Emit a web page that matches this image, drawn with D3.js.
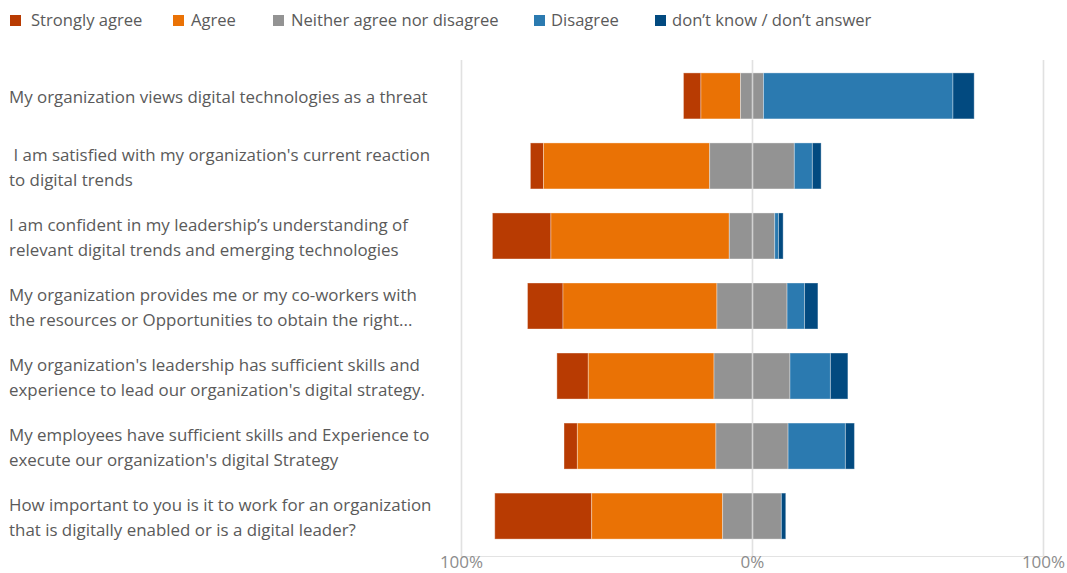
<!DOCTYPE html>
<html>
<head>
<meta charset="utf-8">
<script src="https://cdn.jsdelivr.net/npm/d3@7"></script>
<style>
  html, body { margin: 0; padding: 0; background: #ffffff; }
  svg { display: block; }
  text { font-family: "Open Sans", "Noto Sans", sans-serif; }
</style>
</head>
<body>
<svg id="chart" width="1067" height="573"></svg>
<script>
// Survey statements (each entry is the list of wrapped lines)
const categories = [
  ["My organization views digital technologies as a threat"],
  [" I am satisfied with my organization's current reaction", "to digital trends"],
  ["I am confident in my leadership\u2019s understanding of", "relevant digital trends and emerging technologies"],
  ["My organization provides me or my co-workers with", "the resources or Opportunities to obtain the right..."],
  ["My organization's leadership has sufficient skills and", "experience to lead our organization's digital strategy."],
  ["My employees have sufficient skills and Experience to", "execute our organization's digital Strategy"],
  ["How important to you is it to work for an organization", "that is digitally enabled or is a digital leader?"]
];

// Share of responses per statement (%)
const stronglyAgree = [6.0, 4.5, 20.1, 12.2, 10.8, 4.6, 33.3];
const agree         = [13.6, 57.1, 61.3, 52.9, 43.2, 47.6, 45.0];
const neither       = [7.9, 29.1, 15.6, 24.1, 26.1, 24.8, 20.2];
const disagree      = [65.1, 6.2, 1.3, 6.0, 13.9, 19.7, 0.0];
const dontKnow      = [7.3, 3.0, 1.6, 4.6, 6.0, 3.1, 1.5];

const seriesNames = ["Strongly agree", "Agree", "Neither agree nor disagree", "Disagree", "don\u2019t know / don\u2019t answer"];
const seriesColors = ["#b83b02", "#ea7205", "#939393", "#2b7ab0", "#024a80"];
const tickValues = [-100, 0, 100];
const tickLabels = ["100%", "0%", "100%"];

const svg = d3.select("#chart");

const x = d3.scaleLinear().domain([-100, 100]).range([461, 1043]);
const y = d3.scaleBand()
  .domain(d3.range(categories.length))
  .range([61, 551])
  .paddingInner(0.343)
  .paddingOuter(0.17);

// Build diverging segments: agree side to the left of 0, neither split across 0
const segments = [];
categories.forEach((c, i) => {
  const vals = [stronglyAgree[i], agree[i], neither[i], disagree[i], dontKnow[i]];
  let start = -(stronglyAgree[i] + agree[i] + neither[i] / 2);
  vals.forEach((v, k) => {
    segments.push({ row: i, series: k, x0: start, x1: start + v });
    start += v;
  });
});

// Plot frame baseline
const frameColor = "#e3e3e3";
svg.append("line")
  .attr("x1", x(-100)).attr("x2", x(100))
  .attr("y1", 556.5).attr("y2", 556.5)
  .attr("stroke", frameColor).attr("stroke-width", 1.2);

// Bars
svg.append("g").selectAll("rect")
  .data(segments.filter(d => d.x1 > d.x0))
  .join("rect")
  .attr("x", d => x(d.x0))
  .attr("width", d => x(d.x1) - x(d.x0))
  .attr("y", d => y(d.row))
  .attr("height", y.bandwidth())
  .attr("fill", d => seriesColors[d.series])
  .attr("stroke", "rgba(255,255,255,0.35)")
  .attr("stroke-width", 1);

// Vertical gridlines drawn over the bars
const xAxis = d3.axisBottom(x)
  .tickValues(tickValues)
  .tickFormat((d, i) => tickLabels[i])
  .tickSize(-(556.5 - 60))
  .tickPadding(4);

const axisG = svg.append("g")
  .attr("transform", "translate(0,556.5)")
  .call(xAxis);
axisG.select(".domain").remove();
axisG.selectAll(".tick line")
  .attr("stroke", "#dcdcdc")
  .attr("stroke-opacity", 0.85)
  .attr("stroke-width", 1.6);
axisG.selectAll(".tick text")
  .attr("fill", "#8c8c8c")
  .attr("font-size", 17)
  .attr("dy", "0.45em")
  .style("font-family", "\"Open Sans\", sans-serif");

// Category labels
const labelG = svg.append("g");
categories.forEach((lines, i) => {
  const cy = y(i) + y.bandwidth() / 2 + 1.5;
  const lh = 25;
  const top = cy - (lines.length - 1) * lh / 2;
  const t = labelG.append("text")
    .attr("fill", "#5a5a5a")
    .attr("font-size", 16.9)
    .attr("xml:space", "preserve")
    .style("white-space", "pre");
  lines.forEach((ln, j) => {
    t.append("tspan")
      .attr("x", 9)
      .attr("y", top + j * lh)
      .attr("dy", "0.35em")
      .text(ln);
  });
});

// Legend
const legendSwatchX = [10, 173, 273, 534, 655];
const legendTextX = [31, 191, 291, 551, 672];
const legend = svg.append("g");
seriesNames.forEach((name, k) => {
  legend.append("rect")
    .attr("x", legendSwatchX[k]).attr("y", 15)
    .attr("width", 11).attr("height", 11)
    .attr("fill", seriesColors[k]);
  legend.append("text")
    .attr("x", legendTextX[k]).attr("y", 20.5)
    .attr("dy", "0.35em")
    .attr("fill", "#5a5a5a")
    .attr("font-size", 16.6)
    .text(name);
});
</script>
</body>
</html>
